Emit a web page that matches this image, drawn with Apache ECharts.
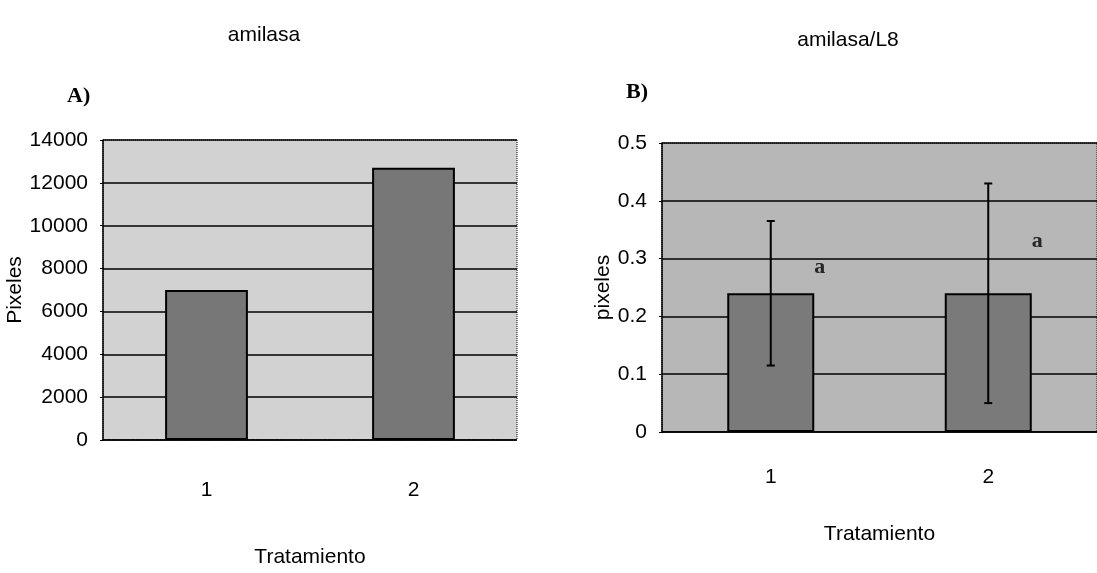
<!DOCTYPE html>
<html>
<head>
<meta charset="utf-8">
<script src="https://cdn.jsdelivr.net/npm/echarts@6/dist/echarts.min.js"></script>
<style>
html,body{margin:0;padding:0;background:#fff;}
#c{width:1097px;height:573px;}
</style>
</head>
<body>
<div id="c"></div>
<script>
// ---- data ----
const categories = ['1', '2'];
const amilasa = [7000, 12700];            // panel A, pixeles
const amilasaL8 = [0.24, 0.24];           // panel B, mean
const amilasaL8Err = [0.125, 0.19];       // panel B, error half-length
const sigLetters = ['a', 'a'];            // significance letters
const sigLetterY = [0.285, 0.33];         // y level of the letters
const yTicksA = { min: 0, max: 14000, interval: 2000 };
const yTicksB = { min: 0, max: 0.5, interval: 0.1 };

const NARROW = "'Liberation Sans',Arial,sans-serif";
const SERIF = "'Liberation Serif','DejaVu Serif',serif";
const NARROWTXT = { fontFamily: NARROW, fontWeight: 'normal', color: '#000' };

const chart = echarts.init(document.getElementById('c'), null, { renderer: 'canvas' });

const errData = categories.map((c, i) => [i, amilasaL8[i] - amilasaL8Err[i], amilasaL8[i] + amilasaL8Err[i]]);
const letterData = categories.map((c, i) => [i, sigLetterY[i]]);

function txt(extra) { return Object.assign({}, NARROWTXT, { fontSize: 21 }, extra || {}); }

chart.setOption({
  animation: false,
  backgroundColor: '#fff',
  title: [
    { text: 'amilasa', left: 259, top: 20, textAlign: 'center', textStyle: txt() },
    { text: 'A)', left: 62, top: 80,
      textStyle: { fontFamily: SERIF, fontSize: 22, fontWeight: 'bold', color: '#000' } },
    { text: 'amilasa/L8', left: 843, top: 25, textAlign: 'center', textStyle: txt() },
    { text: 'B)', left: 621, top: 76,
      textStyle: { fontFamily: SERIF, fontSize: 22, fontWeight: 'bold', color: '#000' } }
  ],
  grid: [
    { left: 103, top: 140, width: 414, height: 310, show: true,
      backgroundColor: '#d2d2d2', borderColor: '#000', borderWidth: 1, borderType: 'dotted' },
    { left: 662, top: 143, width: 448, height: 289, show: true,
      backgroundColor: '#b7b7b7', borderColor: '#000', borderWidth: 1, borderType: 'dotted' }
  ],
  xAxis: [
    { type: 'category', gridIndex: 0, data: categories,
      axisLine: { lineStyle: { color: '#000', type: 'dotted', width: 1.5 } },
      axisTick: { show: false },
      axisLabel: txt({ margin: 40 }),
      name: 'Tratamiento', nameLocation: 'middle', nameGap: 107, nameTextStyle: txt() },
    { type: 'category', gridIndex: 1, data: categories,
      axisLine: { lineStyle: { color: '#000', width: 1.5 } },
      axisTick: { show: false },
      axisLabel: txt({ margin: 35 }),
      name: 'Tratamiento', nameLocation: 'middle', nameGap: 92, nameTextStyle: txt() }
  ],
  yAxis: [
    { type: 'value', gridIndex: 0, min: yTicksA.min, max: yTicksA.max, interval: yTicksA.interval,
      axisLine: { show: true, lineStyle: { color: '#000', width: 1.5 } },
      axisTick: { show: true, length: 3, lineStyle: { color: '#000' } },
      axisLabel: txt({ margin: 15, formatter: v => String(v) }),
      splitLine: { show: true, lineStyle: { color: '#000', width: 1.5 } },
      name: 'Pixeles', nameLocation: 'middle', nameGap: 64, nameRotate: 90, nameTextStyle: txt() },
    { type: 'value', gridIndex: 1, min: yTicksB.min, max: yTicksB.max, interval: yTicksB.interval,
      axisLine: { show: true, lineStyle: { color: '#000', width: 1.5 } },
      axisTick: { show: true, length: 3, lineStyle: { color: '#000' } },
      axisLabel: txt({ margin: 15, formatter: v => String(v) }),
      splitLine: { show: true, lineStyle: { color: '#000', width: 1.5 } },
      name: 'pixeles', nameLocation: 'middle', nameGap: 47, nameRotate: 90, nameTextStyle: txt() }
  ],
  series: [
    { type: 'bar', xAxisIndex: 0, yAxisIndex: 0, data: amilasa, barWidth: '40%',
      itemStyle: { color: '#777777', borderColor: '#000', borderWidth: 2 } },
    { type: 'bar', xAxisIndex: 1, yAxisIndex: 1, data: amilasaL8, barWidth: '40%',
      itemStyle: { color: '#7a7a7a', borderColor: '#000', borderWidth: 2 } },
    { type: 'custom', xAxisIndex: 1, yAxisIndex: 1, data: errData, z: 10,
      renderItem: function (params, api) {
        const x = api.value(0);
        const lo = api.coord([x, api.value(1)]);
        const hi = api.coord([x, api.value(2)]);
        const cap = 4;
        const st = { stroke: '#000', lineWidth: 2 };
        return { type: 'group', children: [
          { type: 'line', shape: { x1: hi[0], y1: hi[1], x2: lo[0], y2: lo[1] }, style: st },
          { type: 'line', shape: { x1: hi[0] - cap, y1: hi[1], x2: hi[0] + cap, y2: hi[1] }, style: st },
          { type: 'line', shape: { x1: lo[0] - cap, y1: lo[1], x2: lo[0] + cap, y2: lo[1] }, style: st }
        ]};
      } },
    { type: 'scatter', xAxisIndex: 1, yAxisIndex: 1, data: letterData, symbolSize: 0, z: 11,
      label: { show: true, position: 'inside', offset: [49, 0],
        formatter: p => sigLetters[p.dataIndex],
        fontFamily: SERIF, fontWeight: 'bold', fontSize: 22, color: '#000' } }
  ]
});
</script>
</body>
</html>
